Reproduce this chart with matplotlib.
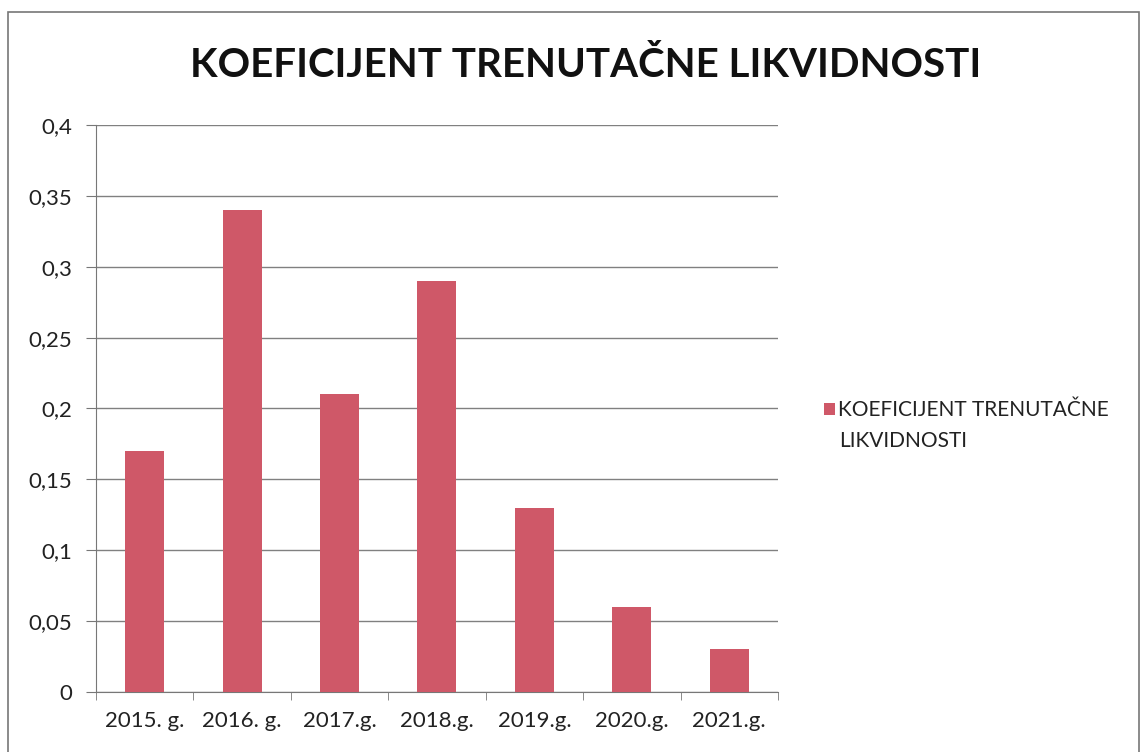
import numpy as np
import matplotlib.pyplot as plt
from matplotlib.patches import Rectangle
from matplotlib.ticker import FixedLocator

plt.rcParams['font.family'] = ['Lato', 'DejaVu Sans']

years = ['2015. g.', '2016. g.', '2017.g.', '2018.g.', '2019.g.', '2020.g.', '2021.g.']
values = [0.17, 0.34, 0.21, 0.29, 0.13, 0.06, 0.03]
yticks = [0, 0.05, 0.1, 0.15, 0.2, 0.25, 0.3, 0.35, 0.4]
ytick_labels = ['0', '0,05', '0,1', '0,15', '0,2', '0,25', '0,3', '0,35', '0,4']
series_name = 'KOEFICIJENT TRENUTAČNE'
series_name_2 = 'LIKVIDNOSTI'
bar_color = '#CF5868'

fig = plt.figure(figsize=(11.48, 7.52), dpi=100)
ax = fig.add_axes([0.0836, 0.0798, 0.5941, 0.754])

x = np.arange(len(years))
ax.bar(x, values, width=0.4, color=bar_color, label=series_name, zorder=3)

ax.set_xlim(-0.5, len(years) - 0.5)
ax.set_ylim(0, 0.4)
ax.set_yticks(yticks)
ax.set_yticklabels(ytick_labels, fontsize=16, color='#222222')
ax.set_xticks(x)
ax.set_xticklabels(years, fontsize=16, color='#222222')
ax.tick_params(axis='x', length=0, pad=14)
ax.xaxis.set_minor_locator(FixedLocator(np.arange(len(years) + 1) - 0.5))
ax.tick_params(axis='x', which='minor', length=6, color='#777777')
ax.tick_params(axis='y', length=7, color='#777777', pad=10)

ax.grid(axis='y', color='#808080', linewidth=1, zorder=0)
for side in ['top', 'right']:
    ax.spines[side].set_visible(False)
for side in ['left', 'bottom']:
    ax.spines[side].set_color('#777777')

fig.text(0.51, 0.913, 'KOEFICIJENT TRENUTAČNE LIKVIDNOSTI', ha='center', va='center',
         fontsize=29, fontweight='bold', color='#111111')

leg = ax.legend(loc='center left', bbox_to_anchor=(1.04, 0.497), frameon=False,
                fontsize=15, handlelength=0.55, handleheight=0.55, handletextpad=0.1,
                labelcolor='#222222')
# second line of the legend label, set under the first one
fig.text(839 / 1148, 1 - 441 / 752, series_name_2, ha='left', va='center',
         fontsize=15, color='#222222')

fig.patches.append(Rectangle((0.007, -0.01), 0.985, 0.994, transform=fig.transFigure,
                             fill=False, edgecolor='#777777', linewidth=1.2))

fig.savefig('out.png', dpi=100)
